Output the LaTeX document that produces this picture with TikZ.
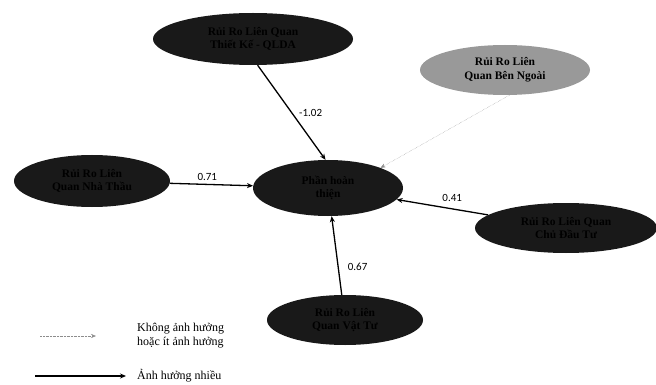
\documentclass[tikz,border=0pt]{standalone}
\usepackage{fontspec}
\setmainfont{Liberation Serif}
\newfontfamily\lblfont{Carlito}
\usetikzlibrary{shapes.geometric,arrows.meta}
\begin{document}
\begin{tikzpicture}[x=1pt,y=-1pt,
  darkell/.style={ellipse,fill=black!90,draw=none,inner sep=0pt,align=center,
    text=black,font=\bfseries\fontsize{11.5}{13}\selectfont},
  greyell/.style={ellipse,fill=black!40,draw=none,inner sep=0pt,align=center,
    text=black,font=\bfseries\fontsize{11.5}{14}\selectfont},
  strong/.style={line width=1.3pt,-{Stealth[length=6pt,width=5pt]}},
  weak/.style={line width=0.4pt,black!45,densely dotted,-{Stealth[length=5pt,width=4pt]}},
  lbl/.style={font=\lblfont\fontsize{11}{12}\selectfont,inner sep=1pt},
  legtext/.style={font=\fontsize{12}{14}\selectfont,align=left,anchor=west,inner sep=0pt}]
\useasboundingbox (0,0) rectangle (656,385);
\node[darkell,minimum width=200pt,minimum height=52pt] (top) at (253,39) {Rủi Ro Liên Quan\\Thiết Kế - QLDA};
\node[greyell,minimum width=170pt,minimum height=50pt] (ext) at (505,70) {Rủi Ro Liên\\Quan Bên Ngoài};
\node[darkell,minimum width=156pt,minimum height=52pt] (left) at (92,181) {Rủi Ro Liên\\Quan Nhà Thầu};
\node[darkell,minimum width=150pt,minimum height=56pt] (ctr) at (328,188) {Phần hoàn\\thiện};
\node[darkell,minimum width=182pt,minimum height=50pt] (right) at (566,228) {Rủi Ro Liên Quan\\Chủ Đầu Tư};
\node[darkell,minimum width=156pt,minimum height=50pt] (bot) at (345,320) {Rủi Ro Liên\\Quan Vật Tư};

\draw[strong] (top.-80) -- node[lbl,pos=0.5,right=6pt] {-1.02} (ctr.95);
\draw[strong] (left) -- node[lbl,pos=0.45,above=2pt] {0.71} (ctr);
\draw[weak] (ext.-80) -- (ctr.21);
\draw[strong] (right) -- node[lbl,pos=0.55,above right=3pt] {0.41} (ctr);
\draw[strong] (bot) -- node[lbl,pos=0.35,right=8pt] {0.67} (ctr);

\coordinate (w1) at (40,336);
\coordinate (w2) at (96,336);
\coordinate (s1) at (35,376);
\coordinate (s2) at (126,376);
\draw[weak] (w1) -- (w2);
\draw[strong,line width=1.1pt] (s1) -- (s2);
\node[legtext] (lt1) at (137,336) {Không ảnh hưởng\\hoặc ít ảnh hưởng};
\node[legtext] (lt2) at (137,376) {Ảnh hưởng nhiều};
\end{tikzpicture}
\end{document}
